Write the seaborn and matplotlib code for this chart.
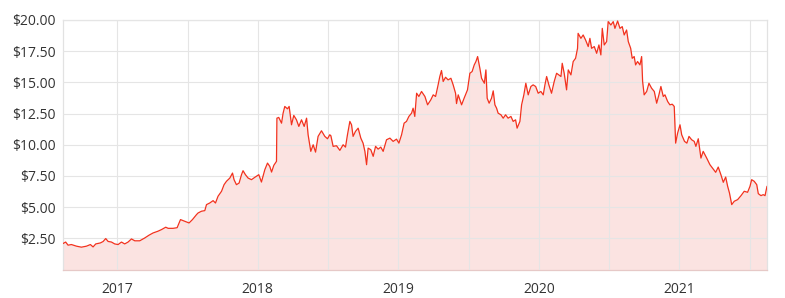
import numpy as np
import pandas as pd
import matplotlib
matplotlib.use("Agg")
import matplotlib.pyplot as plt
from matplotlib.ticker import FixedLocator, FuncFormatter
import seaborn as sns

# time in decimal years, price in dollars
years = [
    2016.614, 2016.633, 2016.650, 2016.674, 2016.710, 2016.745, 2016.781, 2016.809, 2016.828, 2016.847,
    2016.880, 2016.899, 2016.918, 2016.935, 2016.959, 2016.982, 2017.006, 2017.030, 2017.053, 2017.077,
    2017.101, 2017.125, 2017.160, 2017.196, 2017.226, 2017.255, 2017.290, 2017.315, 2017.345, 2017.362,
    2017.397, 2017.426, 2017.450, 2017.480, 2017.511, 2017.535, 2017.564, 2017.575, 2017.599, 2017.623,
    2017.635, 2017.658, 2017.682, 2017.699, 2017.717, 2017.742, 2017.760, 2017.777, 2017.801, 2017.820,
    2017.831, 2017.848, 2017.867, 2017.884, 2017.895, 2017.912, 2017.931, 2017.955, 2017.979, 2018.007,
    2018.026, 2018.050, 2018.069, 2018.085, 2018.098, 2018.114, 2018.133, 2018.136, 2018.149, 2018.169,
    2018.180, 2018.192, 2018.211, 2018.223, 2018.240, 2018.256, 2018.275, 2018.292, 2018.311, 2018.330,
    2018.347, 2018.358, 2018.377, 2018.394, 2018.411, 2018.429, 2018.453, 2018.477, 2018.496, 2018.512,
    2018.520, 2018.536, 2018.560, 2018.584, 2018.607, 2018.624, 2018.638, 2018.655, 2018.667, 2018.678,
    2018.695, 2018.714, 2018.733, 2018.749, 2018.762, 2018.774, 2018.785, 2018.804, 2018.821, 2018.838,
    2018.856, 2018.875, 2018.892, 2018.916, 2018.940, 2018.963, 2018.987, 2019.004, 2019.023, 2019.041,
    2019.058, 2019.075, 2019.094, 2019.105, 2019.117, 2019.130, 2019.146, 2019.165, 2019.189, 2019.208,
    2019.231, 2019.248, 2019.265, 2019.283, 2019.295, 2019.307, 2019.319, 2019.336, 2019.354, 2019.374,
    2019.390, 2019.407, 2019.414, 2019.426, 2019.450, 2019.468, 2019.492, 2019.509, 2019.525, 2019.540,
    2019.552, 2019.564, 2019.580, 2019.592, 2019.612, 2019.623, 2019.632, 2019.646, 2019.663, 2019.675,
    2019.687, 2019.699, 2019.710, 2019.730, 2019.746, 2019.763, 2019.781, 2019.801, 2019.817, 2019.834,
    2019.845, 2019.865, 2019.877, 2019.893, 2019.907, 2019.924, 2019.943, 2019.959, 2019.977, 2019.995,
    2020.014, 2020.031, 2020.043, 2020.055, 2020.071, 2020.090, 2020.109, 2020.126, 2020.142, 2020.157,
    2020.166, 2020.180, 2020.197, 2020.209, 2020.228, 2020.244, 2020.261, 2020.275, 2020.279, 2020.299,
    2020.315, 2020.332, 2020.351, 2020.363, 2020.375, 2020.394, 2020.411, 2020.427, 2020.441, 2020.451,
    2020.465, 2020.482, 2020.493, 2020.512, 2020.529, 2020.541, 2020.560, 2020.577, 2020.593, 2020.607,
    2020.624, 2020.636, 2020.653, 2020.664, 2020.678, 2020.688, 2020.702, 2020.719, 2020.731, 2020.738,
    2020.749, 2020.767, 2020.783, 2020.802, 2020.821, 2020.838, 2020.854, 2020.868, 2020.885, 2020.897,
    2020.916, 2020.932, 2020.949, 2020.963, 2020.973, 2020.987, 2021.004, 2021.016, 2021.036, 2021.053,
    2021.068, 2021.087, 2021.105, 2021.117, 2021.134, 2021.153, 2021.169, 2021.194, 2021.217, 2021.240,
    2021.258, 2021.276, 2021.295, 2021.312, 2021.329, 2021.343, 2021.356, 2021.372, 2021.390, 2021.414,
    2021.438, 2021.461, 2021.485, 2021.502, 2021.514, 2021.532, 2021.550, 2021.561, 2021.580, 2021.596,
    2021.609, 2021.623,
]
prices = [
    2.08, 2.20, 1.95, 2.00, 1.87, 1.79, 1.87, 2.00, 1.81, 2.05,
    2.13, 2.24, 2.48, 2.25, 2.20, 2.05, 2.00, 2.20, 2.05, 2.20,
    2.45, 2.30, 2.30, 2.53, 2.75, 2.93, 3.07, 3.20, 3.39, 3.30,
    3.30, 3.35, 4.00, 3.87, 3.73, 4.00, 4.40, 4.53, 4.67, 4.72,
    5.20, 5.33, 5.52, 5.33, 5.87, 6.27, 6.80, 7.07, 7.33, 7.73,
    7.20, 6.80, 6.93, 7.60, 7.92, 7.60, 7.33, 7.20, 7.39, 7.60,
    7.01, 8.00, 8.53, 8.27, 7.81, 8.35, 8.67, 12.13, 12.19, 11.73,
    12.53, 13.07, 12.88, 13.07, 11.60, 12.35, 12.00, 11.47, 12.00, 11.47,
    12.13, 10.80, 9.47, 10.00, 9.41, 10.67, 11.12, 10.67, 10.48, 10.80,
    10.72, 9.87, 9.92, 9.55, 10.00, 9.81, 10.80, 11.87, 11.60, 10.67,
    11.07, 11.33, 10.53, 10.13, 9.47, 8.40, 9.73, 9.60, 9.07, 9.87,
    9.65, 9.81, 9.47, 10.40, 10.53, 10.27, 10.45, 10.13, 10.80, 11.73,
    11.87, 12.27, 12.53, 12.93, 12.27, 14.13, 13.87, 14.27, 13.87, 13.20,
    13.60, 14.00, 13.87, 14.80, 15.47, 15.95, 15.07, 15.41, 15.20, 15.33,
    14.80, 14.13, 13.30, 14.00, 13.20, 13.73, 14.40, 15.73, 15.87, 16.40,
    16.67, 17.07, 16.13, 15.33, 14.93, 16.00, 13.73, 13.33, 13.73, 14.32,
    13.20, 12.93, 12.53, 12.40, 12.13, 12.40, 12.13, 12.27, 11.87, 12.00,
    11.33, 11.87, 13.20, 14.00, 14.93, 14.00, 14.67, 14.80, 14.67, 14.13,
    14.27, 14.00, 14.80, 15.47, 14.80, 14.13, 15.07, 15.73, 15.60, 15.47,
    16.53, 15.73, 14.40, 16.00, 15.60, 16.67, 16.93, 17.73, 18.93, 18.53,
    18.80, 18.40, 17.87, 18.53, 17.73, 17.87, 17.33, 18.00, 17.20, 19.33,
    18.00, 18.27, 19.87, 19.60, 19.87, 19.33, 19.92, 19.33, 19.47, 18.80,
    19.20, 18.27, 17.73, 16.93, 17.07, 16.40, 16.67, 16.40, 17.07, 15.07,
    14.00, 14.27, 14.93, 14.53, 14.27, 13.33, 14.00, 14.67, 13.87, 14.00,
    13.47, 13.20, 13.25, 13.07, 10.13, 10.93, 11.60, 10.80, 10.27, 10.13,
    10.67, 10.40, 10.27, 9.87, 10.48, 8.93, 9.47, 8.93, 8.40, 8.05,
    7.79, 8.21, 7.60, 6.99, 7.41, 6.67, 6.13, 5.20, 5.47, 5.60,
    5.92, 6.27, 6.19, 6.67, 7.20, 7.07, 6.80, 6.08, 5.92, 6.00,
    5.92, 6.67,
]
year_ticks = [2017, 2018, 2019, 2020, 2021]
half_year_grid = [2016.5, 2017.5, 2018.5, 2019.5, 2020.5, 2021.5]
price_ticks = [2.5, 5.0, 7.5, 10.0, 12.5, 15.0, 17.5, 20.0]

df = pd.DataFrame({"year": years, "price": prices})

sns.set_style("white")
plt.rcParams["font.family"] = ["Open Sans", "DejaVu Sans"]

fig = plt.figure(figsize=(7.85, 2.98), dpi=100)
ax = fig.add_axes([63 / 785, 1 - 269.5 / 298, (767 - 63) / 785, (269.5 - 20) / 298])

line_color = "#f2321e"
ax.fill_between(df["year"], df["price"], 0, color="#fbe3e1", linewidth=0, zorder=1)
sns.lineplot(data=df, x="year", y="price", ax=ax, color=line_color, linewidth=0.9, zorder=3)

ax.set_xlim(years[0], years[-1])
ax.set_ylim(0, 20)
ax.xaxis.set_major_locator(FixedLocator(year_ticks))
ax.xaxis.set_minor_locator(FixedLocator(half_year_grid))
ax.xaxis.set_major_formatter(FuncFormatter(lambda v, p: f"{int(round(v))}"))
ax.yaxis.set_major_locator(FixedLocator(price_ticks))
ax.yaxis.set_major_formatter(FuncFormatter(lambda v, p: f"${v:,.2f}"))

ax.grid(True, which="both", axis="x", color="#e5e5e5", linewidth=0.8, zorder=0)
ax.grid(True, which="major", axis="y", color="#e5e5e5", linewidth=0.8, zorder=0)
ax.set_axisbelow(False)
for gl in ax.get_xgridlines() + ax.get_ygridlines():
    gl.set_zorder(2)
for gl in ax.xaxis.get_minorticklines():
    gl.set_visible(False)

ax.tick_params(axis="both", which="both", length=0, labelsize=10, labelcolor="#333333")
ax.tick_params(axis="x", pad=9)
ax.tick_params(axis="y", pad=5)
ax.set_xlabel("")
ax.set_ylabel("")
for s in ax.spines.values():
    s.set_color("#e2e2e2")
    s.set_linewidth(0.9)
ax.spines["bottom"].set_color("#e6c9c7")

fig.savefig("out.png", dpi=100)
